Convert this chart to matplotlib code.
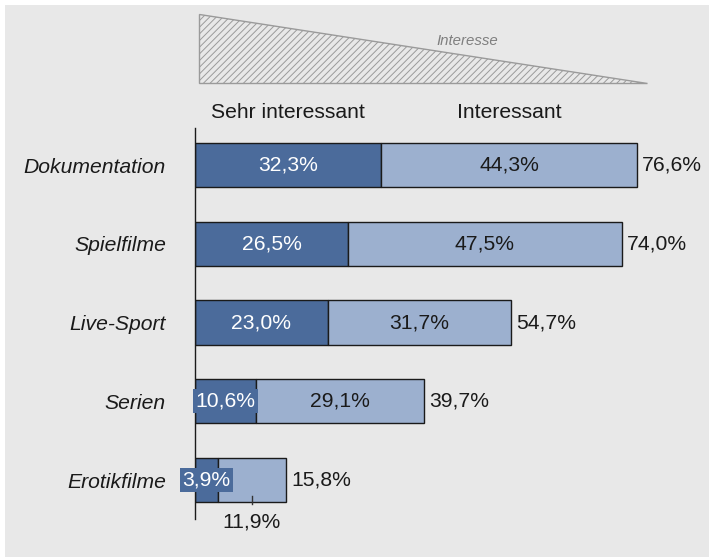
import matplotlib
matplotlib.use("Agg")
import matplotlib.pyplot as plt
from matplotlib.patches import Polygon, Rectangle

plt.rcParams['font.family'] = ['Liberation Sans', 'DejaVu Sans']
plt.rcParams['hatch.linewidth'] = 0.7

# data
categories = ["Dokumentation", "Spielfilme", "Live-Sport", "Serien", "Erotikfilme"]
sehr = [32.3, 26.5, 23.0, 10.6, 3.9]
interessant = [44.3, 47.5, 31.7, 29.1, 11.9]
totals = [76.6, 74.0, 54.7, 39.7, 15.8]
series_names = ["Sehr interessant", "Interessant"]

dark = "#4b6b9b"
light = "#9cb0cf"
bg = "#e8e8e8"

def fmt(v):
    return f"{v:.1f}%".replace(".", ",")

W, H = 709, 557
fig = plt.figure(figsize=(W / 100, H / 100), dpi=100, facecolor="white")
fig.patches.append(Rectangle((5 / W, -0.01), 1.02, 1.01 - 5 / H, transform=fig.transFigure,
                             facecolor=bg, edgecolor="none", zorder=-10))

# axis: x=0 at px 195, 5.77 px per %, rows from px 128 to 519
ax = fig.add_axes([195 / W, (H - 519) / H, 88 * 5.77 / W, (519 - 128) / H])
ax.set_facecolor("none")
ax.set_xlim(0, 88)
ax.set_ylim(4.495, -0.47)

ypos = list(range(len(categories)))
bh = 0.56
ax.barh(ypos, sehr, height=bh, color=dark, edgecolor="#1a1a1a", linewidth=1)
ax.barh(ypos, interessant, left=sehr, height=bh, color=light, edgecolor="#1a1a1a", linewidth=1)

fs = 15.2
for i in ypos:
    s, n, t = sehr[i], interessant[i], totals[i]
    if s < 15:
        ax.text(s / 2, i, fmt(s), ha="center", va="center", color="white", fontsize=fs,
                bbox=dict(boxstyle="square,pad=0.12", facecolor=dark, edgecolor="none"))
    else:
        ax.text(s / 2, i, fmt(s), ha="center", va="center", color="white", fontsize=fs)
    if n < 15:
        xc = s + n / 2
        ax.plot([xc, xc], [i + bh / 2 - 0.08, i + bh / 2 + 0.03], color="#333333", lw=1, clip_on=False)
        ax.text(xc, i + bh / 2 + 0.25, fmt(n), ha="center", va="center", color="#1a1a1a", fontsize=fs)
    else:
        ax.text(s + n / 2, i, fmt(n), ha="center", va="center", color="#1a1a1a", fontsize=fs)
    ax.text(t + 0.9, i, fmt(t), ha="left", va="center", color="#1a1a1a", fontsize=fs)

# header labels over the first bar's segments
ax.text(sehr[0] / 2, -0.67, series_names[0], ha="center", va="center", fontsize=fs, color="#1a1a1a")
ax.text(sehr[0] + interessant[0] / 2, -0.67, series_names[1], ha="center", va="center",
        fontsize=fs, color="#1a1a1a")

# hatched "Interesse" wedge
tri = Polygon([(0.69, -1.917), (0.69, -1.041), (78.3, -1.041)], closed=True,
              facecolor="none", edgecolor="#9a9a9a", hatch="/////", linewidth=1, clip_on=False)
ax.add_patch(tri)
ax.text(47.2, -1.575, "Interesse", ha="center", va="center", fontsize=10.8,
        style="italic", color="#7f7f7f")

ax.set_yticks(ypos)
ax.set_yticklabels(categories, fontsize=fs, style="italic", color="#1a1a1a")
ax.tick_params(axis="y", length=0, pad=21)
ax.set_xticks([])
for side in ["top", "right", "bottom"]:
    ax.spines[side].set_visible(False)
ax.spines["left"].set_color("#1a1a1a")
ax.spines["left"].set_linewidth(1)

fig.savefig("out.png", dpi=100, facecolor=fig.get_facecolor())
